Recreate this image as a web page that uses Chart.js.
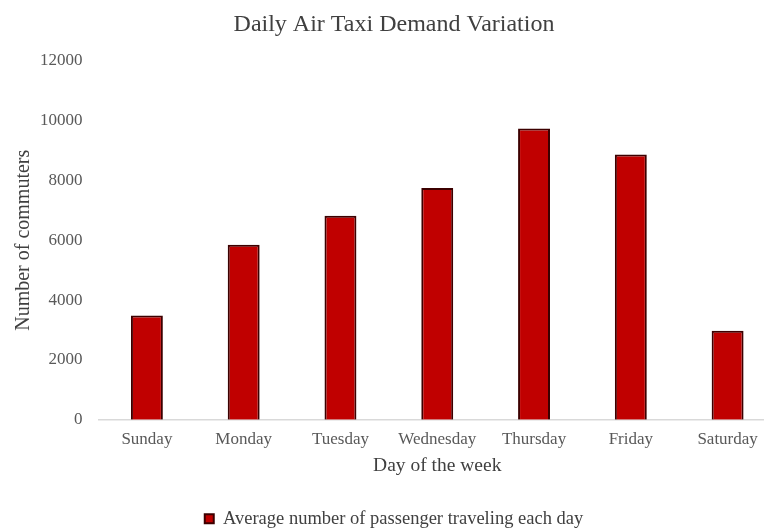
<!DOCTYPE html>
<html lang="en">
<head>
    <meta charset="UTF-8">
    <title>Daily Air Taxi Demand Variation</title>
    <style>
        body{
            margin: 0;
            overflow: hidden;
            background: #fff;
        }
        #wrap{
            width: 776px;
            height: 531px;
        }
    </style>
</head>
<body>
<div id="wrap"><canvas id="chart"></canvas></div>
<script src="https://cdn.jsdelivr.net/npm/chart.js"></script>
<script>
    const days = ['Sunday', 'Monday', 'Tuesday', 'Wednesday', 'Thursday', 'Friday', 'Saturday'];
    const passengers = [3480, 5850, 6820, 7750, 9740, 8870, 2970];
    const yTicks = [0, 2000, 4000, 6000, 8000, 10000, 12000];

    const serif = "'Liberation Serif', 'Times New Roman', serif";
    const grey = '#595959';

    new Chart(document.getElementById('chart'), {
        type: 'bar',
        data: {
            labels: days,
            datasets: [{
                label: 'Average number of passenger traveling each day',
                data: passengers,
                backgroundColor: '#c00000',
                borderColor: '#3c0000',
                borderWidth: 2,
                barPercentage: 0.33,
                categoryPercentage: 1
            }]
        },
        options: {
            responsive: true,
            maintainAspectRatio: false,
            animation: false,
            layout: {
                padding: {left: 12, right: 0, top: 4, bottom: -7}
            },
            plugins: {
                title: {
                    display: true,
                    text: 'Daily Air Taxi Demand Variation',
                    color: '#404040',
                    font: {family: serif, size: 24, weight: 'normal'},
                    padding: {top: 6, bottom: 22}
                },
                legend: {
                    position: 'bottom',
                    labels: {
                        color: '#404040',
                        font: {family: serif, size: 18.5},
                        boxWidth: 9,
                        boxHeight: 9,
                        padding: 1
                    }
                },
                tooltip: {enabled: false}
            },
            scales: {
                x: {
                    grid: {display: false},
                    border: {color: '#d9d9d9', width: 1.5},
                    ticks: {color: grey, font: {family: serif, size: 17}, padding: 2},
                    title: {
                        display: true,
                        text: 'Day of the week',
                        color: '#404040',
                        font: {family: serif, size: 19.5},
                        padding: {top: 2, bottom: 31}
                    }
                },
                y: {
                    min: 0,
                    max: 12000,
                    afterBuildTicks: (axis) => {
                        axis.ticks = yTicks.map((v) => ({value: v}));
                    },
                    grid: {display: false},
                    border: {display: false},
                    ticks: {
                        color: grey,
                        font: {family: serif, size: 17},
                        padding: 8,
                        callback: (v) => String(v)
                    },
                    title: {
                        display: true,
                        text: 'Number of commuters',
                        color: '#404040',
                        font: {family: serif, size: 20},
                        padding: {top: 0, bottom: -4}
                    }
                }
            }
        }
    });
</script>
</body>
</html>
